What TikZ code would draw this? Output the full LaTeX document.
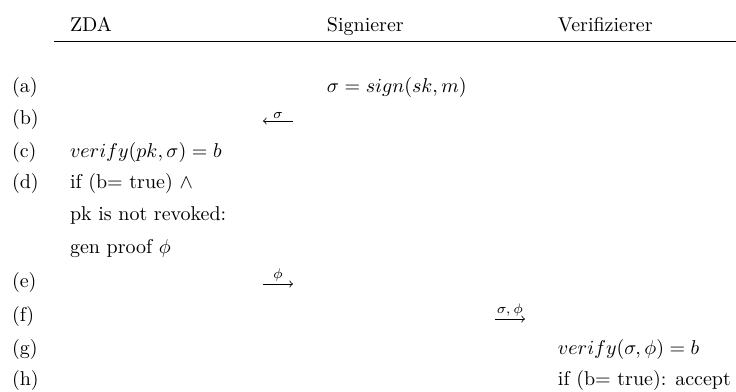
\documentclass[tikz,border=0pt]{standalone}
\begin{document}
\begin{tikzpicture}[x=0.5pt,y=-0.5pt,
  txt/.style={anchor=base west,inner sep=0pt,outer sep=0pt},
  msg/.style={-to,line width=0.4pt},
  lbl/.style={above,inner sep=1.2pt,font=\scriptsize}]
\useasboundingbox (0,0) rectangle (736,392);
% headers
\node[txt] (hz) at (70,31) {ZDA};
\node[txt] (hs) at (327,31) {Signierer};
\node[txt] (hv) at (558,31) {Verifizierer};
\coordinate (l0) at (54,41.5);
\coordinate (l1) at (736,41.5);
\draw[line width=0.7pt] (l0) -- (l1);
% row labels
\node[txt] (ra) at (12,92) {(a)};
\node[txt] (rb) at (12,124) {(b)};
\node[txt] (rc) at (12,157) {(c)};
\node[txt] (rd) at (12,188) {(d)};
\node[txt] (re) at (12,287) {(e)};
\node[txt] (rf) at (12,321) {(f)};
\node[txt] (rg) at (12,354) {(g)};
\node[txt] (rh) at (12,385) {(h)};
% contents
\node[txt] (sa) at (327,92) {$\sigma = sign(sk,m)$};
\node[txt] (zc) at (70,157) {$verify(pk,\sigma) = b$};
\node[txt] (zd1) at (70,188) {if (b= true) $\wedge$};
\node[txt] (zd2) at (70,220) {pk is not revoked:};
\node[txt] (zd3) at (70,253) {gen proof $\phi$};
\node[txt] (vg) at (558,354) {$verify(\sigma,\phi) = b$};
\node[txt] (vh) at (558,385) {if (b= true): accept};
% message arrows
\coordinate (b0) at (263,121);
\coordinate (b1) at (293,121);
\draw[msg] (b1) -- node[lbl] {$\sigma$} (b0);
\coordinate (e0) at (263,284);
\coordinate (e1) at (293,284);
\draw[msg] (e0) -- node[lbl] {$\phi$} (e1);
\coordinate (f0) at (495,319);
\coordinate (f1) at (525,319);
\draw[msg] (f0) -- node[lbl] {$\sigma,\phi$} (f1);
\end{tikzpicture}
\end{document}
